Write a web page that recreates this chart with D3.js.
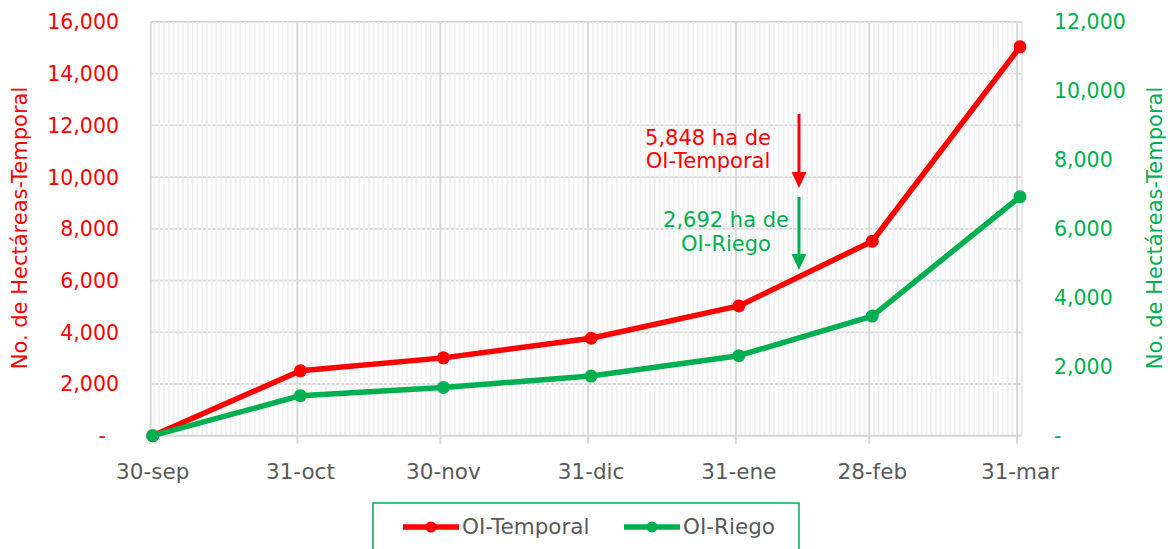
<!DOCTYPE html>
<html>
<head>
<meta charset="utf-8">
<script src="https://cdn.jsdelivr.net/npm/d3@7"></script>
<style>
  html, body { margin: 0; padding: 0; background: #fff; }
  svg { display: block; font-family: "DejaVu Sans", sans-serif; }
</style>
</head>
<body>
<svg id="chart" width="1168" height="549"></svg>
<script>
// ---- data ----
const dates = ["2022-09-30", "2022-10-31", "2022-11-30", "2022-12-31", "2023-01-31", "2023-02-28", "2023-03-31"];
const dateLabels = ["30-sep", "31-oct", "30-nov", "31-dic", "31-ene", "28-feb", "31-mar"];
const temporal = [0, 2510, 3010, 3770, 5020, 7520, 15040];
const riego = [0, 1160, 1400, 1730, 2320, 3470, 6930];
const leftTicks = [0, 2000, 4000, 6000, 8000, 10000, 12000, 14000, 16000];
const rightTicks = [0, 2000, 4000, 6000, 8000, 10000, 12000];
const seriesNames = ["OI-Temporal", "OI-Riego"];
const annotTemporal = ["5,848 ha de", "OI-Temporal"];
const annotRiego = ["2,692 ha de", "OI-Riego"];

(function () {
const RED = "#ff0000", GREEN = "#00b050", GRAY = "#595959";
const parse = d3.utcParse("%Y-%m-%d");
const dts = dates.map(parse);

const svg = d3.select("#chart");
const pTop = 22, pBottom = 435.7;
const x = d3.scaleUtc().domain([dts[0], dts[dts.length - 1]]).range([152.7, 1020]);
const tickOff = -3;
const plotLeft = x(dts[0]) - 2, plotRight = 1022;
const yL = d3.scaleLinear().domain([0, 16000]).range([pBottom, pTop]);
const yR = d3.scaleLinear().domain([0, 12000]).range([pBottom, pTop]);

const g = svg.append("g");

// horizontal gridlines
g.selectAll("line.h").data(leftTicks).join("line")
  .attr("x1", plotLeft).attr("x2", plotRight)
  .attr("y1", d => yL(d)).attr("y2", d => yL(d))
  .attr("stroke", "#d9d9d9").attr("stroke-width", 1.8);

// daily minor gridlines
const days = d3.utcDay.range(dts[0], d3.utcDay.offset(dts[dts.length - 1], 1));
g.selectAll("line.m").data(days).join("line")
  .attr("x1", d => x(d) + tickOff + 4.76).attr("x2", d => x(d) + tickOff + 4.76)
  .attr("y1", pTop).attr("y2", pBottom)
  .attr("stroke", "#f0f0f0").attr("stroke-width", 1.7);

// major vertical gridlines + tick marks
g.selectAll("line.v").data(dts).join("line")
  .attr("x1", d => Math.max(plotLeft, x(d) + tickOff)).attr("x2", d => Math.max(plotLeft, x(d) + tickOff))
  .attr("y1", pTop).attr("y2", pBottom + 8)
  .attr("stroke", "#d9d9d9").attr("stroke-width", 2);

// bottom axis line
g.append("line").attr("x1", plotLeft).attr("x2", plotRight)
  .attr("y1", pBottom).attr("y2", pBottom).attr("stroke", "#d9d9d9").attr("stroke-width", 2);
g.append("line").attr("x1", plotRight).attr("x2", plotRight)
  .attr("y1", pTop).attr("y2", pBottom).attr("stroke", "#e6e6e6").attr("stroke-width", 1.5);

// left axis labels
svg.append("g").selectAll("text").data(leftTicks).join("text")
  .attr("x", d => d === 0 ? 106 : 119).attr("y", d => yL(d)).attr("dy", "0.36em")
  .attr("text-anchor", "end").attr("fill", RED).attr("font-size", 20.5)
  .text(d => d === 0 ? "-" : d3.format(",")(d));

// right axis labels
svg.append("g").selectAll("text").data(rightTicks).join("text")
  .attr("x", 1054).attr("y", d => yR(d)).attr("dy", "0.36em")
  .attr("text-anchor", "start").attr("fill", GREEN).attr("font-size", 20.5)
  .text(d => d === 0 ? "-" : d3.format(",")(d));

// x labels
svg.append("g").selectAll("text").data(dts).join("text")
  .attr("x", d => x(d)).attr("y", 479)
  .attr("text-anchor", "middle").attr("fill", GRAY).attr("font-size", 21.5)
  .text((d, i) => dateLabels[i]);

// axis titles
svg.append("text").attr("transform", "translate(27,228) rotate(-90)")
  .attr("text-anchor", "middle").attr("fill", RED).attr("font-size", 21)
  .text("No. de Hectáreas-Temporal");
svg.append("text").attr("transform", "translate(1162,228) rotate(-90)")
  .attr("text-anchor", "middle").attr("fill", GREEN).attr("font-size", 21)
  .text("No. de Hectáreas-Temporal");

// lines
const lineL = d3.line().x((d, i) => x(dts[i])).y(d => yL(d));
const lineR = d3.line().x((d, i) => x(dts[i])).y(d => yR(d));
function drawSeries(vals, lineGen, yScale, color) {
  const s = svg.append("g");
  s.append("path").datum(vals).attr("d", lineGen)
    .attr("fill", "none").attr("stroke", color).attr("stroke-width", 5.5)
    .attr("stroke-linejoin", "round");
  s.selectAll("circle").data(vals).join("circle")
    .attr("cx", (d, i) => x(dts[i])).attr("cy", d => yScale(d)).attr("r", 6.5)
    .attr("fill", color);
}
drawSeries(temporal, lineL, yL, RED);
drawSeries(riego, lineR, yR, GREEN);

// annotations
function arrow(xp, y1, y2, color) {
  const a = svg.append("g");
  a.append("line").attr("x1", xp).attr("x2", xp).attr("y1", y1).attr("y2", y2 - 14)
    .attr("stroke", color).attr("stroke-width", 3);
  a.append("path").attr("d", `M${xp - 7.5},${y2 - 16} L${xp + 7.5},${y2 - 16} L${xp},${y2} Z`)
    .attr("fill", color);
}
arrow(799, 114, 188, RED);
arrow(799, 197, 270, GREEN);
const at = svg.append("text").attr("fill", RED).attr("font-size", 21).attr("text-anchor", "middle");
annotTemporal.forEach((t, i) => at.append("tspan").attr("x", 708).attr("y", 145 + i * 23).text(t));
const ar = svg.append("text").attr("fill", GREEN).attr("font-size", 21).attr("text-anchor", "middle");
annotRiego.forEach((t, i) => ar.append("tspan").attr("x", 726).attr("y", 227 + i * 24).text(t));

// legend
const lg = svg.append("g");
lg.append("rect").attr("x", 373).attr("y", 503).attr("width", 426).attr("height", 60)
  .attr("fill", "#fff").attr("stroke", GREEN).attr("stroke-width", 1.5);
const legendItems = [{ name: seriesNames[0], color: RED, x0: 403 }, { name: seriesNames[1], color: GREEN, x0: 624 }];
legendItems.forEach(it => {
  lg.append("line").attr("x1", it.x0).attr("x2", it.x0 + 56).attr("y1", 527).attr("y2", 527)
    .attr("stroke", it.color).attr("stroke-width", 5.5);
  lg.append("circle").attr("cx", it.x0 + 28).attr("cy", 527).attr("r", 5.5).attr("fill", it.color);
  lg.append("text").attr("x", it.x0 + 59).attr("y", 534).attr("fill", GRAY).attr("font-size", 21.5).text(it.name);
});
})();
</script>
</body>
</html>
